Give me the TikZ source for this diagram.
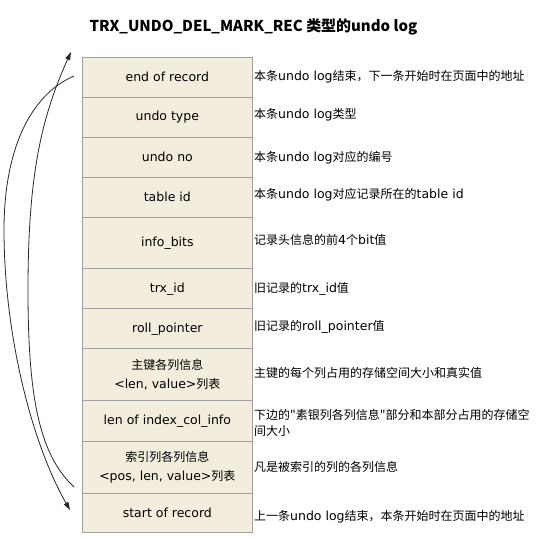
\documentclass[tikz,border=0pt]{standalone}
\usepackage{fontspec}
\setmainfont{DejaVu Sans}
\newfontfamily\cjk[Scale=0.96]{Noto Sans CJK SC}
\newcommand\zh[1]{{\cjk #1}}
\usetikzlibrary{arrows.meta}
\definecolor{cellfill}{RGB}{242,237,220}
\definecolor{cellline}{RGB}{160,160,160}
\definecolor{curvecol}{RGB}{40,40,40}
\begin{document}
\begin{tikzpicture}[x=1pt,y=-1pt,
  cell/.style={draw=cellline, fill=cellfill, line width=1pt, minimum width=169.7pt,
    inner sep=0pt, align=center, anchor=north west,
    font=\fontsize{12.5}{19}\selectfont},
  note/.style={anchor=west, inner sep=0pt, align=left,
    font=\fontsize{12.5}{16}\selectfont},
  conn/.style={draw=curvecol, line width=0.8pt},
  tip/.style={-{Triangle[length=8pt,width=5pt]}}]
\fill[white] (0,0) rectangle (556,547);
\useasboundingbox (0,0) rectangle (556,547);

\node[inner sep=0pt, font=\fontsize{15.6}{19}\selectfont] (title) at (253.5,26.5)
  {\zh{\bfseries TRX\_UNDO\_DEL\_MARK\_REC 类型的undo log}};

\node[cell, minimum height=40pt]   (r1)  at (82,56.7)  {end of record};
\node[cell, minimum height=40pt]   (r2)  at (82,96.7)  {undo type};
\node[cell, minimum height=40pt]   (r3)  at (82,136.7) {undo no};
\node[cell, minimum height=40pt]   (r4)  at (82,176.7) {table id};
\node[cell, minimum height=51.6pt] (r5)  at (82,216.7) {info\_bits};
\node[cell, minimum height=40pt]   (r6)  at (82,268.3) {trx\_id};
\node[cell, minimum height=40pt]   (r7)  at (82,308.3) {roll\_pointer};
\node[cell, minimum height=51.7pt] (r8)  at (82,348.3) {\zh{主键各列信息}\\<len, value>\zh{列表}};
\node[cell, minimum height=40.7pt] (r9)  at (82,400)   {len of index\_col\_info};
\node[cell, minimum height=52pt]   (r10) at (82,440.7) {\zh{索引列各列信息}\\<pos, len, value>\zh{列表}};
\node[cell, minimum height=39pt]   (r11) at (82,492.7) {start of record};

\node[note] (n1)  at (254,77)    {\zh{本条}undo log\zh{结束，下一条开始时在页面中的地址}};
\node[note] (n2)  at (254,115)   {\zh{本条}undo log\zh{类型}};
\node[note] (n3)  at (254,158)   {\zh{本条}undo log\zh{对应的编号}};
\node[note] (n4)  at (254,195)   {\zh{本条}undo log\zh{对应记录所在的}table id};
\node[note] (n5)  at (254,240)   {\zh{记录头信息的前}4\zh{个}bit\zh{值}};
\node[note] (n6)  at (254,289.3) {\zh{旧记录的}trx\_id\zh{值}};
\node[note] (n7)  at (254,327.3) {\zh{旧记录的}roll\_pointer\zh{值}};
\node[note] (n8)  at (254,373.3) {\zh{主键的每个列占用的存储空间大小和真实值}};
\node[note] (n9)  at (254,423)   {\zh{下边的"素银列各列信息"部分和本部分占用的存储空}\\\zh{间大小}};
\node[note] (n10) at (254,466.7) {\zh{凡是被索引的列的各列信息}};
\node[note] (n11) at (254,516.7) {\zh{上一条}undo log\zh{结束，本条开始时在页面中的地址}};

\coordinate (aS) at (74,76);
\coordinate (aM) at (4,230);
\coordinate (aE) at (70,510);
\coordinate (bS) at (74,487);
\coordinate (bM) at (28,290);
\coordinate (bE) at (71,52);

\draw[conn, tip] (aS) .. controls +(-44,19) and +(0,-80) .. (aM)
                      .. controls +(0,100) and +(-40,-70) .. (aE);
\draw[conn, tip] (bS) .. controls +(-34,-32) and +(0,110) .. (bM)
                      .. controls +(0,-110) and +(-31,68) .. (bE);
\end{tikzpicture}
\end{document}
